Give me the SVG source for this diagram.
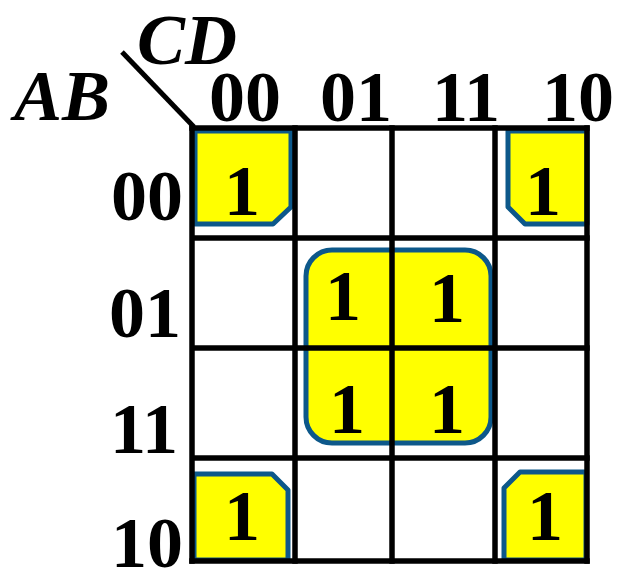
<svg xmlns="http://www.w3.org/2000/svg" width="629" height="577" viewBox="0 0 629 577">
<style>
.t{font-family:"Liberation Serif","Times New Roman",serif;font-weight:bold;font-size:72px;fill:#000}
.i{font-style:italic}
.m{text-anchor:middle}
.e{text-anchor:end}
.loop{fill:#ffff00;stroke:#0d588a;stroke-width:5;stroke-linejoin:round}
.g{stroke:#000;stroke-width:5.5;fill:none;stroke-linecap:square}
</style>
<rect width="629" height="577" fill="#fff"/>
<g id="loops">
<path id="loop-tl" class="loop" d="M195,131 H291 V207 L273,224 H195 Z"/>
<path id="loop-tr" class="loop" d="M508,131 H587 V224 H525 L508,207 Z"/>
<path id="loop-bl" class="loop" d="M194,474 H272 L288,490 V560 H194 Z"/>
<path id="loop-br" class="loop" d="M504,488 L520,472 H586 V560 H504 Z"/>
<rect id="loop-center" class="loop" x="306" y="250" width="185" height="193" rx="26"/>
</g>
<g id="grid" class="g">
<line x1="192" y1="128" x2="587" y2="128"/>
<line x1="195" y1="238" x2="587" y2="238"/>
<line x1="195" y1="348" x2="587" y2="348"/>
<line x1="195" y1="458" x2="587" y2="458"/>
<line x1="192" y1="561" x2="587" y2="561"/>
<line x1="192" y1="128" x2="192" y2="561"/>
<line x1="295" y1="128" x2="295" y2="561"/>
<line x1="392" y1="128" x2="392" y2="561"/>
<line x1="495" y1="128" x2="495" y2="561"/>
<line x1="587" y1="128" x2="587" y2="561"/>
</g>
<g id="connectors">
<line x1="122" y1="52" x2="194" y2="127" stroke="#000" stroke-width="5"/>
</g>
<g id="header">
<text class="t i" x="137" y="64">CD</text>
<text class="t i" x="14" y="120">AB</text>
<text class="t m" x="245" y="121">00</text>
<text class="t m" x="356" y="121">01</text>
<text class="t m" x="466" y="121">11</text>
<text class="t m" x="578" y="121">10</text>
<text class="t e" x="183" y="220">00</text>
<text class="t e" x="181" y="337">01</text>
<text class="t e" x="178" y="453">11</text>
<text class="t e" x="183" y="567">10</text>
</g>
<g id="cells">
<text id="m0" class="t m" x="242" y="215">1</text>
<text id="m2" class="t m" x="543" y="215">1</text>
<text id="m5" class="t m" x="343" y="320">1</text>
<text id="m7" class="t m" x="447" y="322">1</text>
<text id="m13" class="t m" x="347" y="433">1</text>
<text id="m15" class="t m" x="447" y="433">1</text>
<text id="m8" class="t m" x="242" y="540">1</text>
<text id="m10" class="t m" x="545" y="540">1</text>
</g>
</svg>
